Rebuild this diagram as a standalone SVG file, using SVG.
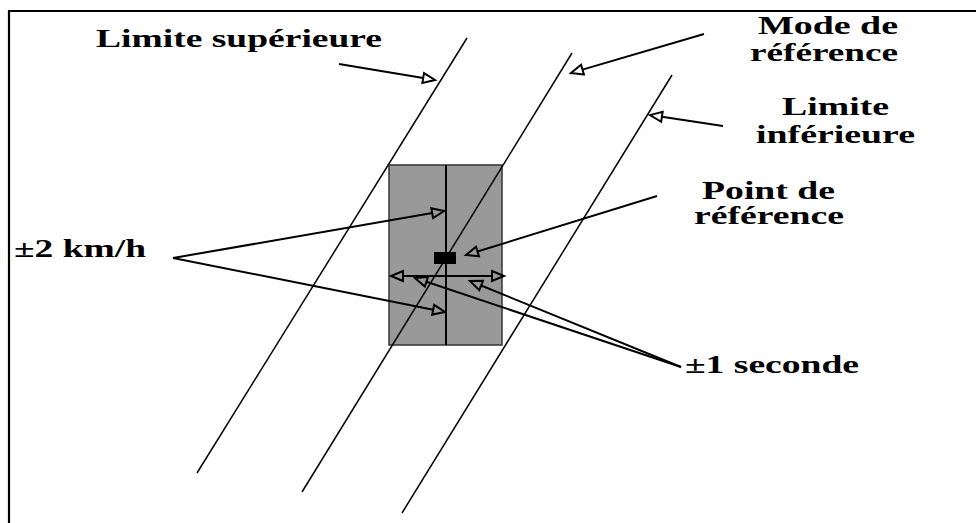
<svg xmlns="http://www.w3.org/2000/svg" width="976" height="523" viewBox="0 0 976 523">
<style>
.lbl{font-family:"Liberation Serif","Times New Roman",serif;font-weight:bold;font-size:25px;fill:#000}
.mode{stroke:#000;stroke-width:1.5;fill:none}
.arr{stroke:#000;stroke-width:2;fill:none;marker-end:url(#ah)}
.frame{stroke:#000;stroke-width:2.2;fill:none}
</style>
<defs>
<marker id="ah" viewBox="-3 -8 18 16" markerWidth="18" markerHeight="16" refX="0" refY="0" orient="auto-start-reverse" markerUnits="userSpaceOnUse">
<path d="M0,-5 L12,0 L0,5 Z" fill="none" stroke="#000" stroke-width="2" stroke-linejoin="miter"/>
</marker>
</defs>
<rect width="976" height="523" fill="#fff"/>
<g id="frame">
<path class="frame" d="M9,523 V11 H976"/>
</g>
<g id="tolerance-box">
<rect x="389" y="165" width="113" height="180" fill="#999" stroke="#333" stroke-width="1.5"/>
<line x1="446" y1="165" x2="446" y2="345" stroke="#000" stroke-width="2"/>
</g>
<g id="lines">
<line class="mode" x1="467" y1="38" x2="197" y2="473"/>
<line class="mode" x1="572" y1="53" x2="302" y2="492"/>
<line class="mode" x1="672" y1="75" x2="402" y2="513"/>
</g>
<g id="reference-point">
<rect x="434" y="252" width="22" height="12" fill="#000"/>
</g>
<g id="label-limite-sup"><text class="lbl" x="96" y="47" textLength="286" lengthAdjust="spacingAndGlyphs">Limite supérieure</text></g>
<g id="label-mode-ref">
<text class="lbl" x="758" y="34" textLength="140" lengthAdjust="spacingAndGlyphs">Mode de</text>
<text class="lbl" x="750" y="61" textLength="148" lengthAdjust="spacingAndGlyphs">référence</text>
</g>
<g id="label-limite-inf">
<text class="lbl" x="782" y="115" textLength="107" lengthAdjust="spacingAndGlyphs">Limite</text>
<text class="lbl" x="756" y="143" textLength="159" lengthAdjust="spacingAndGlyphs">inférieure</text>
</g>
<g id="label-point-ref">
<text class="lbl" x="702" y="199" textLength="133" lengthAdjust="spacingAndGlyphs">Point de</text>
<text class="lbl" x="694" y="224" textLength="150" lengthAdjust="spacingAndGlyphs">référence</text>
</g>
<g id="label-kmh"><text class="lbl" x="14" y="257" textLength="132" lengthAdjust="spacingAndGlyphs">±2 km/h</text></g>
<g id="label-seconde"><text class="lbl" x="685" y="373" textLength="174" lengthAdjust="spacingAndGlyphs">±1 seconde</text></g>
<g id="connectors">
<line class="arr" x1="339" y1="64" x2="423.2" y2="78"/>
<line class="arr" x1="704" y1="34" x2="582.5" y2="69.6"/>
<line class="arr" x1="723" y1="126" x2="661.9" y2="116.8"/>
<line class="arr" x1="657" y1="196" x2="477.5" y2="251.5"/>
<line class="arr" x1="173" y1="258" x2="432.2" y2="213.1"/>
<line class="arr" x1="173" y1="258" x2="433.2" y2="309.7"/>
<line class="arr" x1="681" y1="367" x2="426.4" y2="281.8"/>
<line class="arr" x1="681" y1="367" x2="481.1" y2="285.5"/>
<line class="arr" x1="403" y1="276" x2="492" y2="276" marker-start="url(#ah)"/>
</g>
</svg>
